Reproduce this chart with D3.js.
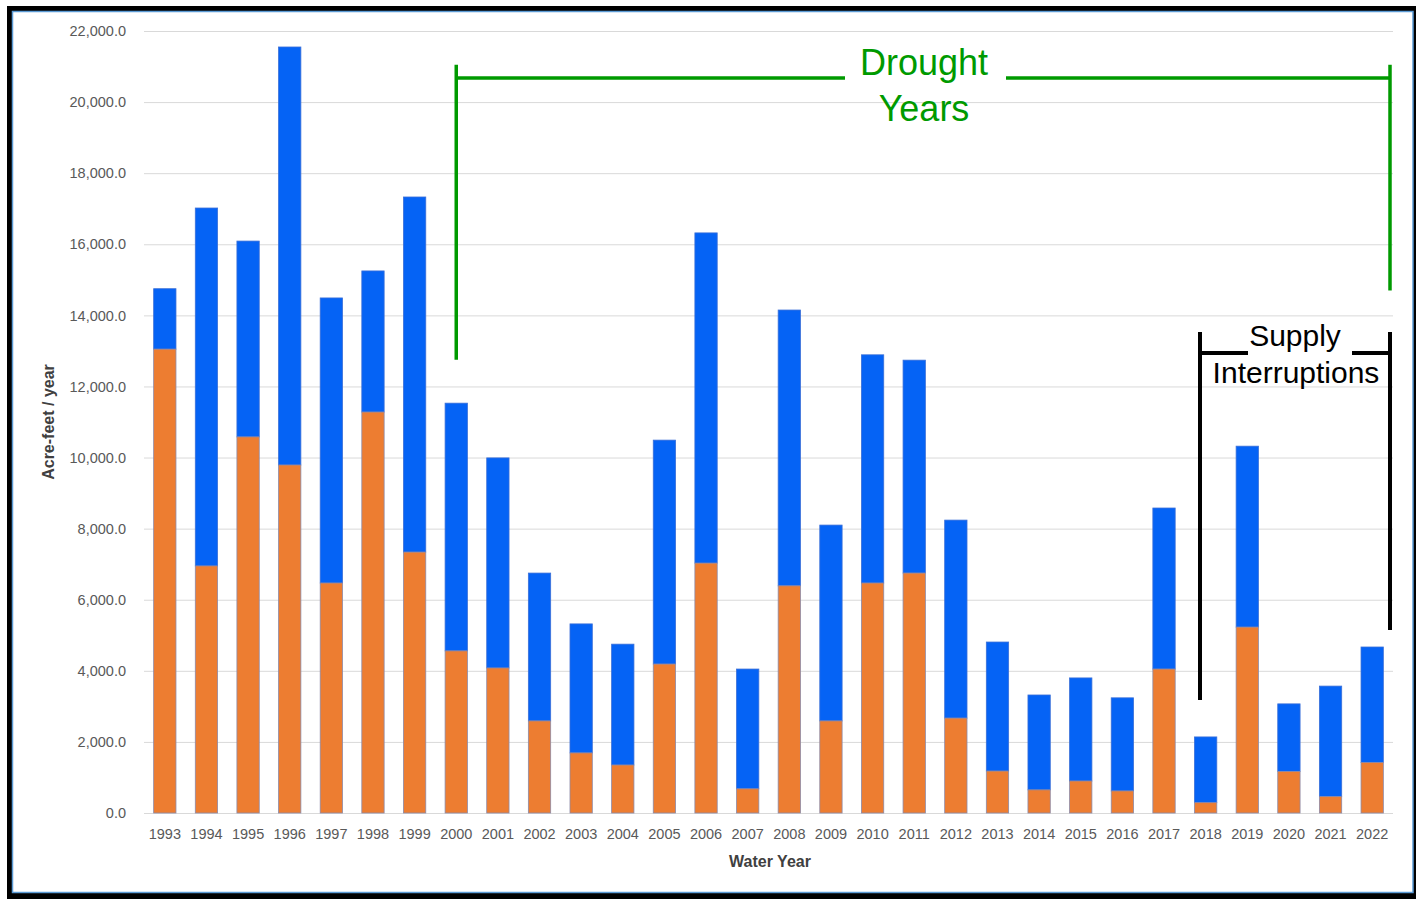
<!DOCTYPE html>
<html><head><meta charset="utf-8">
<script src="https://cdn.jsdelivr.net/npm/d3@7"></script>
<style>html,body{margin:0;padding:0;background:#fff;}svg{display:block;}</style>
</head><body>
<svg id="chart" width="1416" height="899"></svg>
<script>
const years = ["1993","1994","1995","1996","1997","1998","1999","2000","2001","2002","2003","2004","2005","2006","2007","2008","2009","2010","2011","2012","2013","2014","2015","2016","2017","2018","2019","2020","2021","2022"];
// lower (orange) segment
const orangeValues = [13050,6950,10580,9790,6470,11280,7340,4560,4080,2590,1690,1350,4190,7030,680,6390,2590,6470,6750,2670,1180,650,900,620,4050,290,5230,1170,460,1420];
// total height (top of blue segment)
const totalValues = [14750,17020,16090,21550,14490,15250,17330,11530,9990,6750,5320,4750,10490,16320,4050,14150,8100,12890,12740,8240,4810,3320,3800,3240,8580,2140,10320,3070,3570,4670];
const yTicks = [0,2000,4000,6000,8000,10000,12000,14000,16000,18000,20000,22000];

const svg = d3.select("#chart");
const W = 1416, H = 899;

// frame
svg.append("rect").attr("x",0).attr("y",0).attr("width",W).attr("height",H).attr("fill","#fff");
svg.append("rect").attr("x",7).attr("y",6).attr("width",W-7).attr("height",H-6).attr("fill","#000");
svg.append("rect").attr("x",12.5).attr("y",11.5).attr("width",1400.5).attr("height",881).attr("fill","#fff").attr("stroke","#5b9bd5").attr("stroke-width",1.5);

const x = d3.scaleBand().domain(years).range([144,1393]).paddingInner(0.464).paddingOuter(0.232);
const y = d3.scaleLinear().domain([0,22000]).range([813,31]);

// gridlines
svg.append("g").selectAll("line").data(yTicks).join("line")
  .attr("x1",144).attr("x2",1393)
  .attr("y1",d=>y(d)+0.5).attr("y2",d=>y(d)+0.5)
  .attr("stroke","#d9d9d9").attr("stroke-width",1);

// y axis labels
const yAxis = d3.axisLeft(y).tickValues(yTicks).tickSize(0).tickPadding(0)
  .tickFormat(d=>d3.format(",.1f")(d));
const gy = svg.append("g").attr("transform","translate(126,0)").call(yAxis);
gy.select(".domain").remove();
gy.selectAll("text").attr("font-family","'Liberation Sans', Arial, sans-serif").attr("font-size",14.5).attr("fill","#595959");

// x axis labels
const xAxis = d3.axisBottom(x).tickSize(0).tickPadding(0);
const gx = svg.append("g").attr("transform","translate(0,829)").call(xAxis);
gx.select(".domain").remove();
gx.selectAll("text").attr("font-family","'Liberation Sans', Arial, sans-serif").attr("font-size",14.5).attr("fill","#595959");

// bars
const data = years.map((yr,i)=>({yr, o:orangeValues[i], t:totalValues[i]}));
svg.append("g").selectAll("rect").data(data).join("rect")
  .attr("x",d=>x(d.yr)).attr("width",x.bandwidth())
  .attr("y",d=>y(d.t)).attr("height",d=>y(d.o)-y(d.t))
  .attr("fill","#0563f5").attr("stroke","#3a6fd8").attr("stroke-width",0.8);
svg.append("g").selectAll("rect").data(data).join("rect")
  .attr("x",d=>x(d.yr)).attr("width",x.bandwidth())
  .attr("y",d=>y(d.o)).attr("height",d=>y(0)-y(d.o))
  .attr("fill","#ed7d31").attr("stroke","#8c8aa8").attr("stroke-width",0.8);

// axis titles
svg.append("text").attr("x",770).attr("y",867).attr("text-anchor","middle")
  .attr("font-family","'Liberation Sans', Arial, sans-serif").attr("font-weight","bold").attr("font-size",16).attr("fill","#404040")
  .text("Water Year");
svg.append("text").attr("transform","translate(54,422) rotate(-90)").attr("text-anchor","middle")
  .attr("font-family","'Liberation Sans', Arial, sans-serif").attr("font-weight","bold").attr("font-size",16).attr("fill","#404040")
  .text("Acre-feet / year");

// Drought bracket
const green = "#009a00";
const gAnn = svg.append("g").attr("stroke",green).attr("stroke-width",3.5).attr("fill","none");
const gLeft = x("2000")+x.bandwidth()/2;
const gRight = 1390;
gAnn.append("line").attr("x1",gLeft).attr("x2",gLeft).attr("y1",y(21050)).attr("y2",y(12750));
gAnn.append("line").attr("x1",gLeft).attr("x2",845).attr("y1",y(20680)).attr("y2",y(20680));
gAnn.append("line").attr("x1",1006).attr("x2",gRight).attr("y1",y(20680)).attr("y2",y(20680));
gAnn.append("line").attr("x1",gRight).attr("x2",gRight).attr("y1",y(21050)).attr("y2",y(14700));
svg.append("text").attr("x",924).attr("y",75).attr("text-anchor","middle")
  .attr("font-family","'Liberation Sans', Arial, sans-serif").attr("font-size",36).attr("fill",green).text("Drought");
svg.append("text").attr("x",924).attr("y",121).attr("text-anchor","middle")
  .attr("font-family","'Liberation Sans', Arial, sans-serif").attr("font-size",36).attr("fill",green).text("Years");

// Supply interruptions bracket
const bAnn = svg.append("g").attr("stroke","#000").attr("stroke-width",4).attr("fill","none");
const bLeft = 1200, bRight = 1390;
bAnn.append("line").attr("x1",bLeft).attr("x2",bLeft).attr("y1",y(13530)).attr("y2",y(3180));
bAnn.append("line").attr("x1",bLeft).attr("x2",1248).attr("y1",y(12940)).attr("y2",y(12940));
bAnn.append("line").attr("x1",1352).attr("x2",bRight).attr("y1",y(12940)).attr("y2",y(12940));
bAnn.append("line").attr("x1",bRight).attr("x2",bRight).attr("y1",y(13530)).attr("y2",y(5150));
svg.append("text").attr("x",1295).attr("y",346).attr("text-anchor","middle")
  .attr("font-family","'Liberation Sans', Arial, sans-serif").attr("font-size",30).attr("fill","#000").text("Supply");
svg.append("text").attr("x",1296).attr("y",383).attr("text-anchor","middle")
  .attr("font-family","'Liberation Sans', Arial, sans-serif").attr("font-size",30).attr("fill","#000").text("Interruptions");
</script>
</body></html>
